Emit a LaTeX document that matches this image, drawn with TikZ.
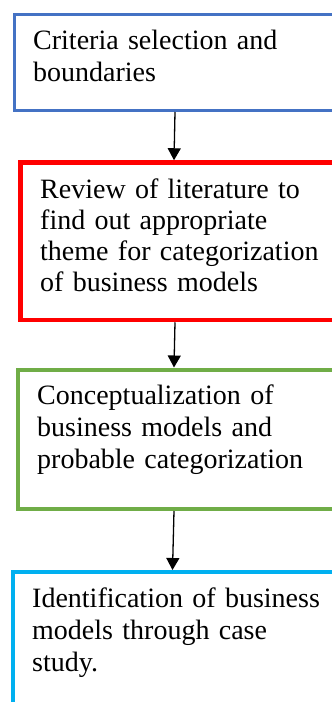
\documentclass[tikz,border=0pt]{standalone}
\usepackage{fontspec}
\setmainfont{Liberation Serif}
\usetikzlibrary{arrows.meta}
\definecolor{cblue}{HTML}{4472C4}
\definecolor{cred}{HTML}{FF0000}
\definecolor{cgreen}{HTML}{70AD47}
\definecolor{ccyan}{HTML}{00B0F0}
\tikzset{
  box/.style={draw, rectangle, fill=white, inner sep=0pt, minimum width=400pt, anchor=north west},
  txt/.style={inner sep=0pt, text width=300pt, align=left, anchor=base west, font=\fontsize{28}{32}\selectfont},
  arr/.style={line width=1.3pt, -{Triangle[width=13pt,length=12pt]}}
}
\begin{document}
\begin{tikzpicture}[x=1pt,y=-1pt]
\useasboundingbox (0,0) rectangle (332,702);
\clip (0,0) rectangle (332,702);
\node[box, draw=cblue, line width=3pt, minimum height=96.5pt] (b1) at (12.5,12.5) {};
\node[box, draw=cred, line width=4.5pt, minimum height=157.5pt] (b2) at (18.25,160.25) {};
\node[box, draw=cgreen, line width=4pt, minimum height=139.5pt] (b3) at (16,367.5) {};
\node[box, draw=ccyan, line width=4pt, minimum height=200pt] (b4) at (11,570) {};
\node[txt] (t1) at (33,49) {Criteria selection and\\boundaries};
\node[txt, font=\fontsize{28}{31.3}\selectfont] (t2) at (40,198) {Review of literature to\\find out appropriate\\theme for categorization\\of business models};
\node[txt] (t3) at (37,404) {Conceptualization of\\business models and\\probable categorization};
\node[txt] (t4) at (32,607) {Identification of business\\models through case\\study.};
\draw[arr] ([xshift=162.5pt]b1.south west) -- ([xshift=155.75pt]b2.north west);
\draw[arr] ([xshift=156.75pt]b2.south west) -- ([xshift=158pt]b3.north west);
\draw[arr] ([xshift=158pt]b3.south west) -- ([xshift=161.5pt]b4.north west);
\end{tikzpicture}
\end{document}
